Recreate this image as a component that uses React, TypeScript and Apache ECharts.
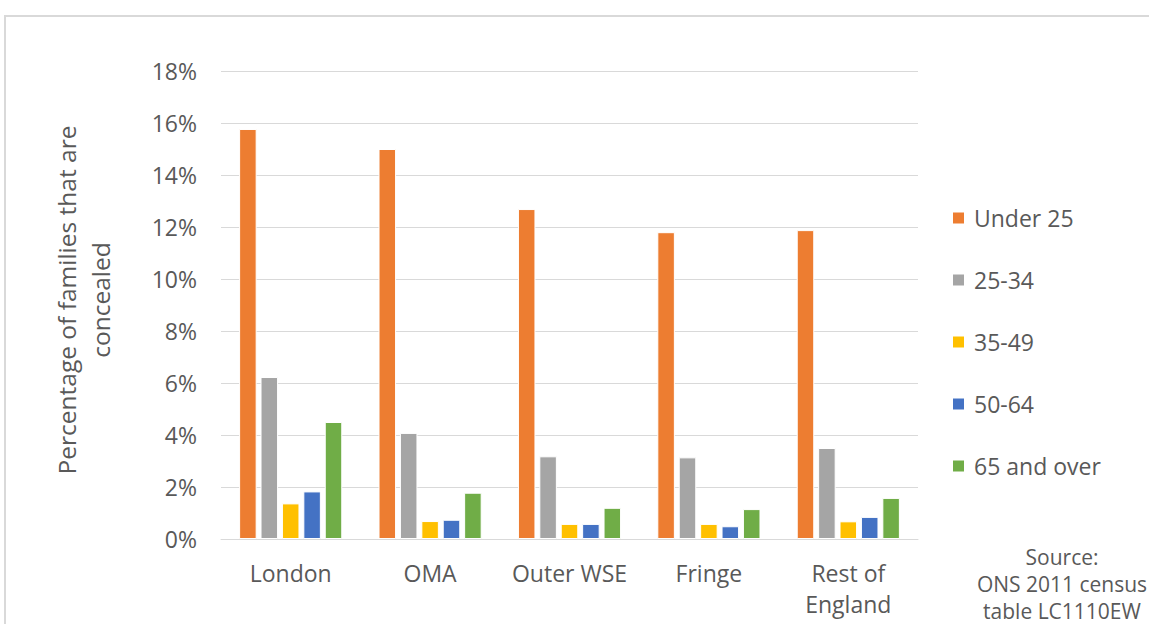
import React, { useEffect, useRef } from "react";
import * as echarts from "echarts";

const categories = ["London", "OMA", "Outer WSE", "Fringe", "Rest of\nEngland"];
const seriesNames = ["Under 25", "25-34", "35-49", "50-64", "65 and over"];
const colors = ["#ED7D31", "#A5A5A5", "#FFC000", "#4472C4", "#70AD47"];
const under25 = [15.77, 15.0, 12.69, 11.8, 11.88];
const age25to34 = [6.23, 4.08, 3.18, 3.14, 3.5];
const age35to49 = [1.37, 0.69, 0.58, 0.58, 0.68];
const age50to64 = [1.83, 0.74, 0.58, 0.49, 0.85];
const age65plus = [4.5, 1.78, 1.2, 1.15, 1.58];
const yTicks = [0, 2, 4, 6, 8, 10, 12, 14, 16, 18];

const FONT = "'Open Sans', sans-serif";
const TXT = "#595959";

export default function App() {
  const ref = useRef<HTMLDivElement>(null);
  useEffect(() => {
    if (!ref.current) return;
    const chart = echarts.init(ref.current, undefined, { renderer: "svg" });
    const data = [under25, age25to34, age35to49, age50to64, age65plus];
    chart.setOption({
      animation: false,
      backgroundColor: "#ffffff",
      textStyle: { fontFamily: FONT },
      grid: { left: 221, right: 231, top: 71, bottom: 85 },
      xAxis: {
        type: "category",
        data: categories,
        axisLine: { lineStyle: { color: "#d9d9d9", width: 1 } },
        axisTick: { show: false },
        axisLabel: {
          color: TXT,
          fontSize: 23,
          fontFamily: FONT,
          margin: 18,
          lineHeight: 31,
          interval: 0,
          hideOverlap: false,
        },
      },
      yAxis: {
        type: "value",
        min: yTicks[0],
        max: yTicks[yTicks.length - 1],
        interval: 2,
        axisLine: { show: false },
        axisTick: { show: false },
        axisLabel: { color: TXT, fontSize: 23, fontFamily: FONT, margin: 24, formatter: "{value}%" },
        splitLine: { lineStyle: { color: "#d9d9d9", width: 1 } },
      },
      legend: {
        orient: "vertical",
        left: 946,
        top: 201,
        itemWidth: 13,
        itemHeight: 13,
        itemGap: 38,
        icon: "rect",
        textStyle: { color: TXT, fontSize: 23, lineHeight: 24, fontFamily: FONT, padding: [0, 0, 0, 4] },
        data: seriesNames,
      },
      graphic: [
        {
          type: "rect",
          shape: { x: 5, y: 16, width: 1200, height: 700 },
          style: { fill: "none", stroke: "#d9d9d9", lineWidth: 2 },
          silent: true,
        },
        {
          type: "text",
          x: 83,
          y: 300,
          rotation: Math.PI / 2,
          style: {
            text: "Percentage of families that are\nconcealed",
            fill: TXT,
            fontSize: 24.5,
            fontFamily: FONT,
            lineHeight: 34,
            align: "center",
            verticalAlign: "middle",
          },
        },
        {
          type: "text",
          x: 1062,
          y: 584,
          style: {
            text: "Source:\nONS 2011 census\ntable LC1110EW",
            fill: TXT,
            fontSize: 21,
            fontFamily: FONT,
            lineHeight: 27,
            align: "center",
            verticalAlign: "middle",
          },
        },
      ],
      series: seriesNames.map((name, i) => ({
        name,
        type: "bar",
        data: data[i],
        barCategoryGap: "26%",
        barGap: "22%",
        itemStyle: { color: colors[i], borderColor: "#ffffff", borderWidth: 1 },
      })),
    });
    return () => chart.dispose();
  }, []);
  return (
    <div
      ref={ref}
      style={{ position: "fixed", left: 0, top: 0, width: 1149, height: 624 }}
    />
  );
}
